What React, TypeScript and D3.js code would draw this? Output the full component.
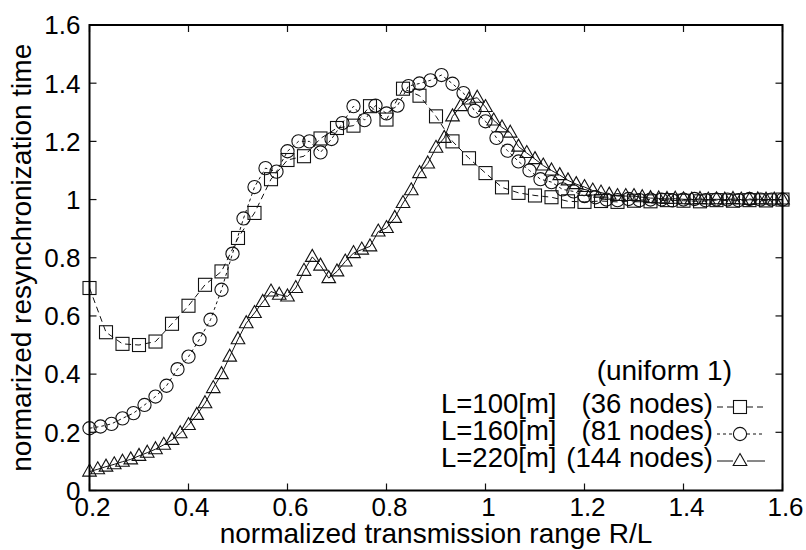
import React from "react";
import * as d3 from "d3";

const X_TICKS = [0.2, 0.4, 0.6, 0.8, 1.0, 1.2, 1.4, 1.6];
const X_TICK_LABELS = ["0.2", "0.4", "0.6", "0.8", "1", "1.2", "1.4", "1.6"];
const Y_TICKS = [0, 0.2, 0.4, 0.6, 0.8, 1.0, 1.2, 1.4, 1.6];
const Y_TICK_LABELS = ["0", "0.2", "0.4", "0.6", "0.8", "1", "1.2", "1.4", "1.6"];

const X_START = 0.2;
const L100_STEP = 1 / 30;
const L160_STEP = 1 / 45;
const L220_STEP = 1 / 60;

const L100_VALUES = [
  0.696, 0.544, 0.504, 0.5, 0.512, 0.573, 0.635, 0.707, 0.753, 0.868,
  0.954, 1.07, 1.136, 1.149, 1.21, 1.246, 1.254, 1.321, 1.275, 1.381,
  1.357, 1.286, 1.2, 1.142, 1.091, 1.042, 1.023, 1.014, 1.008, 0.994,
  0.992, 0.995, 0.992, 0.996, 0.994, 0.998, 0.996, 0.994, 0.998, 0.996,
  0.998, 0.997, 1.0,
];

const L160_VALUES = [
  0.214, 0.22, 0.229, 0.248, 0.266, 0.294, 0.323, 0.36, 0.417, 0.46,
  0.52, 0.587, 0.69, 0.814, 0.935, 1.043, 1.108, 1.096, 1.166, 1.2,
  1.2, 1.162, 1.208, 1.263, 1.321, 1.273, 1.323, 1.296, 1.323, 1.39,
  1.399, 1.41, 1.428, 1.398, 1.366, 1.305, 1.269, 1.212, 1.168, 1.131,
  1.1, 1.07, 1.06, 1.035, 1.028, 1.012, 1.008, 1.0, 0.998, 1.002,
  0.998, 1.0, 1.0, 0.997, 1.0, 1.002, 0.998, 1.0, 1.0, 0.998,
  1.002, 1.0, 1.0, 1.0,
];

const L220_VALUES = [
  0.065, 0.073, 0.082, 0.09, 0.099, 0.107, 0.119, 0.13, 0.142, 0.157,
  0.174, 0.197, 0.225, 0.26, 0.3, 0.352, 0.4, 0.46, 0.52, 0.575,
  0.61, 0.648, 0.684, 0.673, 0.667, 0.696, 0.755, 0.803, 0.773, 0.73,
  0.753, 0.787, 0.816, 0.828, 0.839, 0.89, 0.902, 0.937, 0.988, 1.032,
  1.091, 1.124, 1.178, 1.212, 1.286, 1.321, 1.344, 1.35, 1.318, 1.272,
  1.248, 1.23, 1.182, 1.16, 1.139, 1.117, 1.1, 1.084, 1.066, 1.053,
  1.043, 1.031, 1.024, 1.017, 1.012, 1.012, 1.012, 1.008, 1.005, 1.004,
  1.002, 1.003, 1.001, 1.0, 1.002, 1.0, 1.001, 1.0, 1.002, 1.0,
  0.999, 1.001, 1.0, 1.0, 1.0,
];

const LEGEND_TITLE = "(uniform 1)";
const SERIES_NAMES = ["L=100[m]", "L=160[m]", "L=220[m]"];
const SERIES_NODES = ["(36 nodes)", "(81 nodes)", "(144 nodes)"];
const X_LABEL = "normalized transmission range R/L";
const Y_LABEL = "normarized resynchronization time";

const W = 806;
const H = 550;
const M = { left: 89.5, right: 782.5, top: 25, bottom: 490.5 };
const FONT = "'Liberation Sans', Arial, Helvetica, sans-serif";
const INK = "#111";

type Pt = { x: number; y: number };

const toPoints = (vals: number[], step: number): Pt[] =>
  vals.map((v, i) => ({ x: X_START + i * step, y: v }));

function Marker({ kind, cx, cy }: { kind: string; cx: number; cy: number }) {
  if (kind === "square") {
    return <rect x={cx - 6.5} y={cy - 6.5} width={13} height={13} fill="none" stroke={INK} strokeWidth={1.1} />;
  }
  if (kind === "circle") {
    return <circle cx={cx} cy={cy} r={6.6} fill="none" stroke={INK} strokeWidth={1.1} />;
  }
  const p = d3.path();
  p.moveTo(cx, cy - 7.5);
  p.lineTo(cx + 6.8, cy + 4.5);
  p.lineTo(cx - 6.8, cy + 4.5);
  p.closePath();
  return <path d={p.toString()} fill="none" stroke={INK} strokeWidth={1.1} />;
}

export default function App() {
  const x = d3.scaleLinear().domain([0.2, 1.6]).range([M.left, M.right]);
  const y = d3.scaleLinear().domain([0, 1.6]).range([M.bottom, M.top]);
  const line = d3
    .line<Pt>()
    .x((d) => x(d.x))
    .y((d) => y(d.y));

  const series = [
    { kind: "square", pts: toPoints(L100_VALUES, L100_STEP), dash: "6,4" },
    { kind: "circle", pts: toPoints(L160_VALUES, L160_STEP), dash: "3,3" },
    { kind: "triangle", pts: toPoints(L220_VALUES, L220_STEP), dash: "none" },
  ];

  const tickLen = 7;
  const legendRows = [413, 440, 467];

  return (
    <svg
      width={W}
      height={H}
      viewBox={`0 0 ${W} ${H}`}
      style={{ position: "absolute", left: 0, top: 0, background: "#fff" }}
      fontFamily={FONT}
    >
      <rect x={0} y={0} width={W} height={H} fill="#fff" />
      {/* ticks */}
      {Y_TICKS.map((t, i) => (
        <g key={"yt" + i}>
          <line x1={M.left} x2={M.left + tickLen} y1={y(t)} y2={y(t)} stroke={INK} strokeWidth={1.2} />
          <line x1={M.right} x2={M.right - tickLen} y1={y(t)} y2={y(t)} stroke={INK} strokeWidth={1.2} />
          <text x={80.5} y={y(t)} dy="0.36em" textAnchor="end" fontSize={26} fill="#000">
            {Y_TICK_LABELS[i]}
          </text>
        </g>
      ))}
      {X_TICKS.map((t, i) => (
        <g key={"xt" + i}>
          <line x1={x(t)} x2={x(t)} y1={M.bottom} y2={M.bottom - tickLen} stroke={INK} strokeWidth={1.2} />
          <line x1={x(t)} x2={x(t)} y1={M.top} y2={M.top + tickLen} stroke={INK} strokeWidth={1.2} />
          <text x={x(t) + 3} y={516} textAnchor="middle" fontSize={26} fill="#000">
            {X_TICK_LABELS[i]}
          </text>
        </g>
      ))}

      {/* series lines */}
      {series.map((s, i) => (
        <path
          key={"l" + i}
          d={line(s.pts) || ""}
          fill="none"
          stroke={INK}
          strokeWidth={1}
          strokeDasharray={s.dash}
        />
      ))}
      {/* markers */}
      {series.map((s, i) => (
        <g key={"m" + i}>
          {s.pts.map((p, j) => (
            <Marker key={j} kind={s.kind} cx={x(p.x)} cy={y(p.y)} />
          ))}
        </g>
      ))}

      {/* frame */}
      <rect
        x={M.left}
        y={M.top}
        width={M.right - M.left}
        height={M.bottom - M.top}
        fill="none"
        stroke="#000"
        strokeWidth={2}
      />

      {/* legend */}
      <text x={732} y={380} textAnchor="end" fontSize={28} fill="#000">
        {LEGEND_TITLE}
      </text>
      {series.map((s, i) => (
        <g key={"lg" + i}>
          <text x={441} y={legendRows[i]} fontSize={27.5} fill="#000">
            {SERIES_NAMES[i]}
          </text>
          <text x={713} y={legendRows[i]} textAnchor="end" fontSize={27.5} fill="#000">
            {SERIES_NODES[i]}
          </text>
          <line
            x1={717}
            x2={765}
            y1={legendRows[i] - 6}
            y2={legendRows[i] - 6}
            stroke={INK}
            strokeWidth={1}
            strokeDasharray={s.dash}
          />
          <rect x={733} y={legendRows[i] - 14} width={14} height={16} fill="#fff" />
          <Marker kind={s.kind} cx={740} cy={legendRows[i] - 6} />
        </g>
      ))}

      {/* axis labels */}
      <text x={(M.left + M.right) / 2} y={543} textAnchor="middle" fontSize={28} fill="#000">
        {X_LABEL}
      </text>
      <text
        transform={`translate(31, ${(M.top + M.bottom) / 2}) rotate(-90)`}
        textAnchor="middle"
        fontSize={28}
        fill="#000"
      >
        {Y_LABEL}
      </text>
    </svg>
  );
}
